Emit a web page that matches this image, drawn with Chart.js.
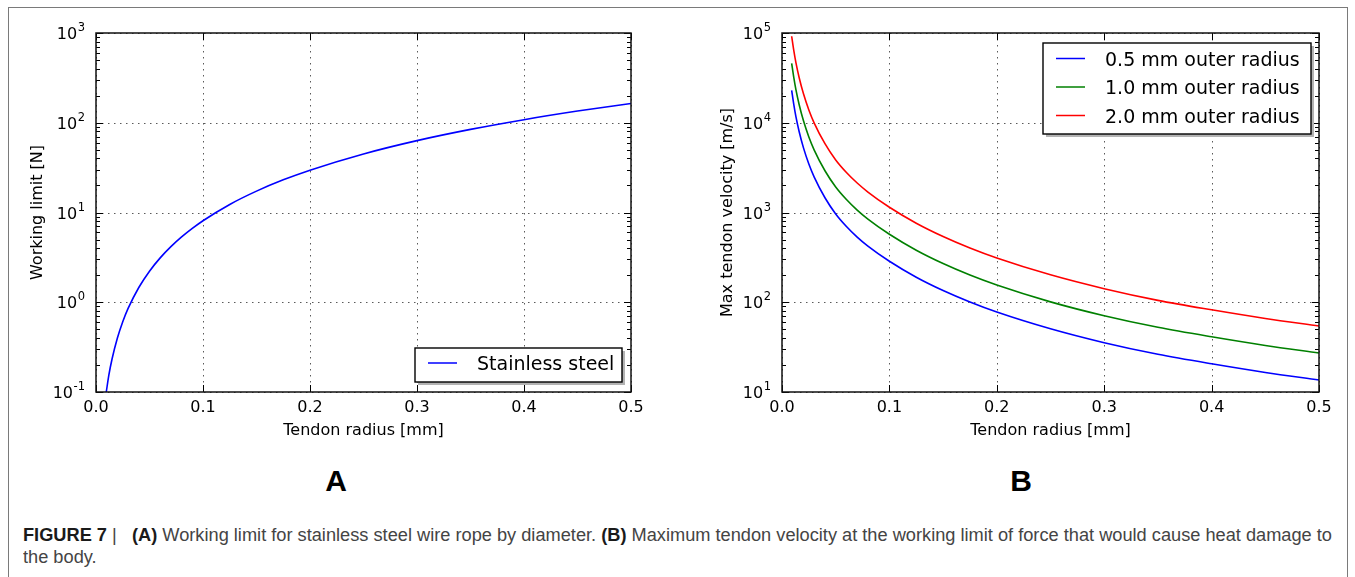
<!DOCTYPE html>
<html><head><meta charset="utf-8">
<script src="https://cdn.jsdelivr.net/npm/chart.js@4.4.1/dist/chart.umd.min.js"></script>
<style>
html,body{margin:0;padding:0;background:#fff;width:1355px;height:577px;overflow:hidden;}
#frame{position:absolute;left:8px;top:7px;width:1340px;height:620px;border:1px solid #7a7a7a;box-sizing:border-box;}
canvas{position:absolute;top:0;}
.plabel{position:absolute;font-family:'Liberation Sans',Arial,sans-serif;font-weight:bold;font-size:30px;color:#000;transform:translate(-50%,-50%);line-height:30px;}
#caption{position:absolute;left:23px;top:524px;font-family:'Liberation Sans Narrow','Liberation Sans',Arial,sans-serif;font-size:17.5px;color:#444;line-height:22px;white-space:nowrap;transform-origin:0 0;}
#caption b{color:#1a1a1a;}
#l1{display:inline-block;}
</style></head>
<body>
<div id="frame"></div>
<canvas id="cA" width="680" height="460" style="left:0;width:680px;height:460px"></canvas>
<canvas id="cB" width="675" height="460" style="left:680px;width:675px;height:460px"></canvas>
<div class="plabel" style="left:336px;top:481px">A</div>
<div class="plabel" style="left:1021px;top:481px">B</div>
<div id="caption"><span id="l1"><b>FIGURE 7</b> |&nbsp;&nbsp; <b>(A)</b> Working limit for stainless steel wire rope by diameter. <b>(B)</b> Maximum tendon velocity at the working limit of force that would cause heat damage to</span><br><span>the body.</span></div>
<script>
// ---- data ----
const xTickValues = [0, 0.1, 0.2, 0.3, 0.4, 0.5];
const xTickLabels = ['0.0', '0.1', '0.2', '0.3', '0.4', '0.5'];
const yExponentsA = [-1, 0, 1, 2, 3];
const yExponentsB = [1, 2, 3, 4, 5];

const radiusA = [0.0096, 0.012, 0.015, 0.02, 0.025, 0.03, 0.04, 0.05, 0.06, 0.07, 0.08, 0.09, 0.1, 0.125, 0.15, 0.175, 0.2, 0.25, 0.3, 0.35, 0.4, 0.45, 0.5];
const workingLimitN = [0.1, 0.154, 0.233, 0.399, 0.606, 0.853, 1.46, 2.22, 3.12, 4.16, 5.34, 6.65, 8.1, 12.3, 17.3, 23.1, 29.6, 44.9, 63.2, 84.3, 108.2, 134.9, 164];

const radiusB = [0.009, 0.011, 0.013, 0.016, 0.02, 0.025, 0.03, 0.04, 0.05, 0.06, 0.07, 0.08, 0.1, 0.125, 0.15, 0.175, 0.2, 0.25, 0.3, 0.35, 0.4, 0.45, 0.5];
const velocity05 = [23000, 15900, 11600, 7930, 5250, 3470, 2480, 1460, 963, 698, 532, 422, 286, 190, 135, 100.6, 77.8, 50.6, 35.4, 26.3, 20.6, 16.5, 13.6];
const velocity10 = [46000, 31800, 23200, 15860, 10500, 6940, 4960, 2920, 1926, 1396, 1064, 844, 572, 380, 270, 201, 155.6, 101, 70.8, 52.6, 41.2, 33, 27.2];
const velocity20 = [92000, 63600, 46400, 31700, 21000, 13900, 9920, 5840, 3850, 2790, 2130, 1690, 1144, 760, 540, 402, 311, 202, 141.6, 105, 82.4, 66, 54.4];

const labelA = 'Stainless steel';
const labelsB = ['0.5 mm outer radius', '1.0 mm outer radius', '2.0 mm outer radius'];

const FONT = "'DejaVu Sans', sans-serif";

function pts(xs, ys) { return xs.map((x, i) => ({x: x, y: ys[i]})); }

const decor = {
  id: 'decor',
  beforeDatasetsDraw(chart, args, o) {
    const ctx = chart.ctx, a = chart.chartArea, x = chart.scales.x, y = chart.scales.y;
    ctx.save();
    ctx.strokeStyle = '#5a5a5a'; ctx.lineWidth = 1; ctx.setLineDash([1.5, 4.5]);
    o.xTicks.forEach(v => {
      const px = Math.round(x.getPixelForValue(v)) + 0.5;
      ctx.beginPath(); ctx.moveTo(px, a.top); ctx.lineTo(px, a.bottom); ctx.stroke();
    });
    o.yExps.forEach(e => {
      const py = Math.round(y.getPixelForValue(Math.pow(10, e))) + 0.5;
      ctx.beginPath(); ctx.moveTo(a.left, py); ctx.lineTo(a.right, py); ctx.stroke();
    });
    ctx.restore();
  },
  afterDraw(chart, args, o) {
    const ctx = chart.ctx, a = chart.chartArea, x = chart.scales.x, y = chart.scales.y;
    ctx.save();
    ctx.setLineDash([]);
    ctx.strokeStyle = '#000'; ctx.lineWidth = 1;
    const e0 = o.yExps[0], e1 = o.yExps[o.yExps.length - 1];
    for (let e = e0; e <= e1; e++) {
      const py = Math.round(y.getPixelForValue(Math.pow(10, e))) + 0.5;
      ctx.beginPath(); ctx.moveTo(a.left, py); ctx.lineTo(a.left + 7, py);
      ctx.moveTo(a.right, py); ctx.lineTo(a.right - 7, py); ctx.stroke();
      if (e < e1) {
        for (let m = 2; m <= 9; m++) {
          const q = Math.round(y.getPixelForValue(m * Math.pow(10, e))) + 0.5;
          ctx.beginPath(); ctx.moveTo(a.left, q); ctx.lineTo(a.left + 4, q);
          ctx.moveTo(a.right, q); ctx.lineTo(a.right - 4, q); ctx.stroke();
        }
      }
    }
    o.xTicks.forEach(v => {
      const px = Math.round(x.getPixelForValue(v)) + 0.5;
      ctx.beginPath(); ctx.moveTo(px, a.bottom); ctx.lineTo(px, a.bottom - 7);
      ctx.moveTo(px, a.top); ctx.lineTo(px, a.top + 7); ctx.stroke();
    });
    ctx.lineWidth = 1.5; ctx.strokeStyle = '#111';
    ctx.strokeRect(a.left, a.top, a.right - a.left, a.bottom - a.top);
    ctx.fillStyle = '#000';
    ctx.font = '16px ' + FONT; ctx.textAlign = 'center'; ctx.textBaseline = 'alphabetic';
    o.xTicks.forEach((v, i) => {
      ctx.fillText(o.xLabels[i], x.getPixelForValue(v), a.bottom + 20);
    });
    o.yExps.forEach(e => {
      const py = y.getPixelForValue(Math.pow(10, e));
      const expTxt = e < 0 ? '-' + Math.abs(e) : String(e);
      ctx.font = '11.5px ' + FONT; ctx.textAlign = 'right';
      const ew = ctx.measureText(expTxt).width;
      const xr = a.left - 11;
      ctx.fillText(expTxt, xr, py - 2);
      ctx.font = '16px ' + FONT;
      ctx.fillText('10', xr - ew - 0.5, py + 6);
    });
    ctx.font = '16px ' + FONT; ctx.textAlign = 'center';
    ctx.fillText(o.xTitle, (a.left + a.right) / 2, a.bottom + 43);
    ctx.save();
    ctx.translate(a.left - o.yTitleOff, (a.top + a.bottom) / 2);
    ctx.rotate(-Math.PI / 2);
    ctx.fillText(o.yTitle, 0, 0);
    ctx.restore();
    const L = o.legend;
    const bx = a.right - L.right - L.w, by = L.top != null ? a.top + L.top : a.bottom - L.bottom - L.h;
    ctx.fillStyle = '#b3b3b3';
    ctx.fillRect(bx + 3, by + 3, L.w, L.h);
    ctx.fillStyle = '#fff';
    ctx.fillRect(bx, by, L.w, L.h);
    ctx.lineWidth = 1.4; ctx.strokeStyle = '#000';
    ctx.strokeRect(bx, by, L.w, L.h);
    ctx.font = '19px ' + FONT; ctx.textAlign = 'left';
    chart.data.datasets.forEach((ds, i) => {
      const ry = by + L.first + i * L.step;
      ctx.strokeStyle = ds.borderColor; ctx.lineWidth = 1.5;
      ctx.beginPath(); ctx.moveTo(bx + 13, ry); ctx.lineTo(bx + 42, ry); ctx.stroke();
      ctx.fillStyle = '#000';
      ctx.fillText(ds.label, bx + 62, ry + 7);
    });
    ctx.restore();
  }
};

function makeChart(id, datasets, yMinExp, yMaxExp, yWidth, padRight, decorOpts) {
  return new Chart(document.getElementById(id), {
    type: 'line',
    data: {datasets: datasets},
    options: {
      responsive: false, animation: false, devicePixelRatio: 1,
      layout: {padding: {left: 0, top: 33, right: padRight, bottom: 18}},
      elements: {point: {radius: 0}, line: {borderWidth: 1.6, cubicInterpolationMode: 'monotone'}},
      plugins: {legend: {display: false}, tooltip: {enabled: false}, decor: decorOpts},
      scales: {
        x: {type: 'linear', min: 0, max: 0.5,
            grid: {display: false}, border: {display: false}, ticks: {display: false},
            afterFit: s => { s.height = 50; s.paddingLeft = 0; s.paddingRight = 0; }},
        y: {type: 'logarithmic', min: Math.pow(10, yMinExp), max: Math.pow(10, yMaxExp),
            grid: {display: false}, border: {display: false}, ticks: {display: false},
            afterFit: s => { s.width = yWidth; s.paddingTop = 0; s.paddingBottom = 0; }}
      }
    },
    plugins: [decor]
  });
}

makeChart('cA', [
  {label: labelA, data: pts(radiusA, workingLimitN), borderColor: '#0000ff', fill: false}
], yExponentsA[0], yExponentsA[yExponentsA.length - 1], 96, 49, {
  xTicks: xTickValues, xLabels: xTickLabels, yExps: yExponentsA,
  xTitle: 'Tendon radius [mm]', yTitle: 'Working limit [N]', yTitleOff: 54,
  legend: {right: 9, bottom: 10, w: 207, h: 34, first: 15, step: 28.5}
});

makeChart('cB', [
  {label: labelsB[0], data: pts(radiusB, velocity05), borderColor: '#0000ff', fill: false},
  {label: labelsB[1], data: pts(radiusB, velocity10), borderColor: '#008000', fill: false},
  {label: labelsB[2], data: pts(radiusB, velocity20), borderColor: '#ff0000', fill: false}
], yExponentsB[0], yExponentsB[yExponentsB.length - 1], 102, 36, {
  xTicks: xTickValues, xLabels: xTickLabels, yExps: yExponentsB,
  xTitle: 'Tendon radius [mm]', yTitle: 'Max tendon velocity [m/s]', yTitleOff: 50,
  legend: {right: 8, top: 10, w: 268, h: 91, first: 15.5, step: 28.5}
});

(function () {
  const cap = document.getElementById('caption');
  const w = document.getElementById('l1').getBoundingClientRect().width;
  const sx = 1309 / w;
  cap.style.transform = 'scaleX(' + sx + ')';
})();
</script>
</body></html>
